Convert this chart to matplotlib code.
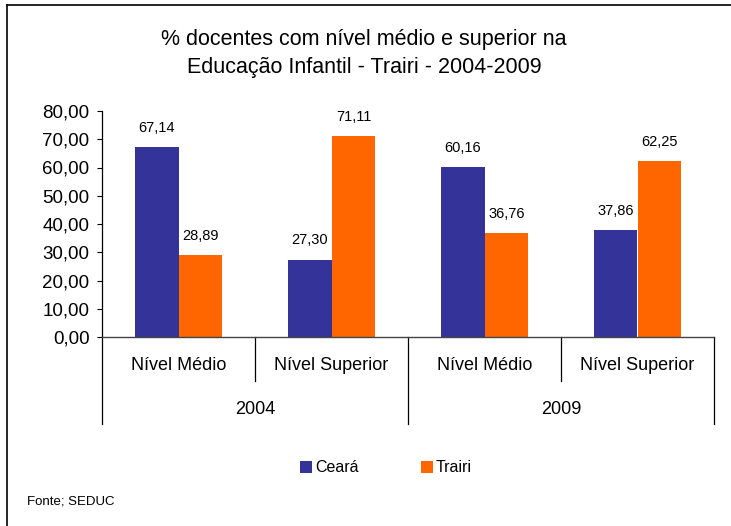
import matplotlib
matplotlib.use("Agg")
import matplotlib.pyplot as plt
from matplotlib.lines import Line2D
from matplotlib.patches import Patch

plt.rcParams['font.family'] = ['Liberation Sans', 'DejaVu Sans']

title_lines = ["% docentes com nível médio e superior na",
               "Educação Infantil - Trairi - 2004-2009"]
categories = ["Nível Médio", "Nível Superior", "Nível Médio", "Nível Superior"]
years = ["2004", "2009"]
series_names = ["Ceará", "Trairi"]
ceara = [67.14, 27.30, 60.16, 37.86]
trairi = [28.89, 71.11, 36.76, 62.25]
yticks = [0, 10, 20, 30, 40, 50, 60, 70, 80]
source = "Fonte; SEDUC"

BLUE = "#333399"
ORANGE = "#FF6600"

W, H = 731, 526
fig = plt.figure(figsize=(W / 100, H / 100), dpi=100)
ax = fig.add_axes([102 / W, 1 - 337 / H, (714 - 102) / W, (337 - 111) / H])

def fmt(v):
    return f"{v:.2f}".replace('.', ',')

bw = 0.287
xs = [i + 0.5 for i in range(len(categories))]
for series, col, off in ((ceara, BLUE, -bw / 2), (trairi, ORANGE, bw / 2)):
    bars = ax.bar([x + off for x in xs], series, width=bw, color=col, zorder=2)
    for b, v in zip(bars, series):
        ax.annotate(fmt(v), (b.get_x() + b.get_width() / 2, v), xytext=(0, 9),
                    textcoords='offset points', ha='center', va='bottom',
                    fontsize=10.5, color='black')

ax.set_xlim(0, len(categories))
ax.set_ylim(0, 80)
ax.set_yticks(yticks)
ax.set_yticklabels([fmt(t) for t in yticks], fontsize=13.5)
ax.tick_params(axis='y', direction='out', length=3.5, width=0.8, pad=5.5)
ax.set_xticks([])
for s in ('top', 'right'):
    ax.spines[s].set_visible(False)
ax.spines['left'].set_linewidth(0.9)
ax.spines['bottom'].set_color('#444444')
ax.spines['bottom'].set_linewidth(1.0)

# hierarchical category axis
inner_bottom = (337 - 381) / (337 - 111)
outer_bottom = (337 - 424) / (337 - 111)
trans = ax.get_xaxis_transform()
for i in range(len(categories) + 1):
    yb = outer_bottom if i % 2 == 0 else inner_bottom
    ax.add_line(Line2D([i, i], [0, yb], transform=trans, color='black',
                       lw=0.9, clip_on=False))
cat_y = (337 - 365) / (337 - 111)
for x, c in zip(xs, categories):
    ax.text(x, cat_y, c, transform=trans, ha='center', va='center', fontsize=13)
year_y = (337 - 409) / (337 - 111)
for j, yname in enumerate(years):
    ax.text(2 * j + 1, year_y, yname, transform=trans, ha='center', va='center',
            fontsize=13)

# title
fig.text(364 / W, 1 - 39 / H, title_lines[0], ha='center', va='center', fontsize=15.5)
fig.text(364 / W, 1 - 68 / H, title_lines[1], ha='center', va='center', fontsize=15.5)

# legend
handles = [Patch(facecolor=BLUE, edgecolor='none'), Patch(facecolor=ORANGE, edgecolor='none')]
fig.legend(handles, series_names, loc='center', bbox_to_anchor=(386 / W, 1 - 468 / H),
           ncol=2, frameon=False, fontsize=11.5, handlelength=0.75, handleheight=0.75,
           handletextpad=0.2, columnspacing=3.9)

# source
fig.text(27 / W, 1 - 501 / H, source, ha='left', va='center', fontsize=9.5)

# frame
fig.add_artist(Line2D([7 / W, 1], [1 - 5 / H, 1 - 5 / H], transform=fig.transFigure,
                      color='black', lw=1.2))
fig.add_artist(Line2D([7 / W, 7 / W], [0, 1 - 5 / H], transform=fig.transFigure,
                      color='black', lw=1.2))

fig.savefig("out.png", dpi=100)
